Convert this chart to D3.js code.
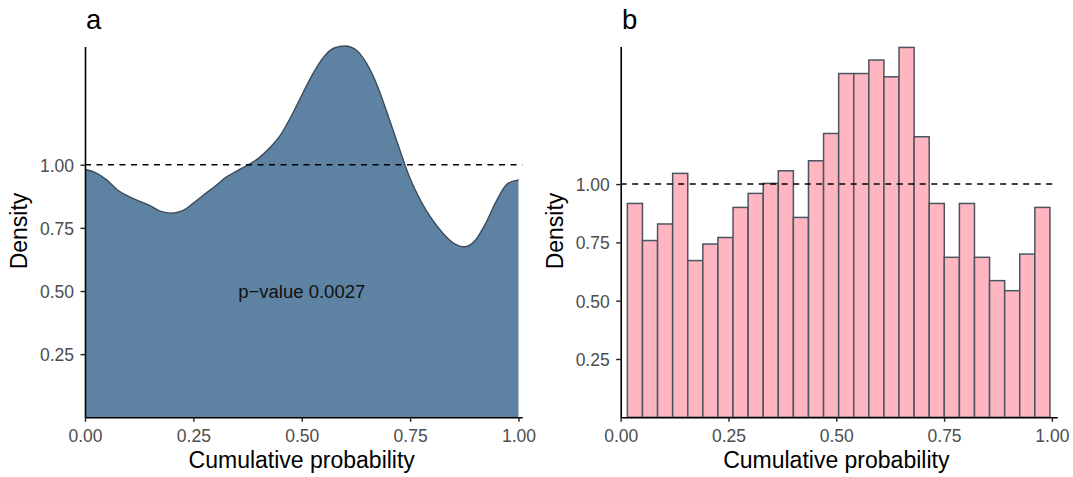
<!DOCTYPE html>
<html><head><meta charset="utf-8">
<script src="https://cdn.jsdelivr.net/npm/d3@7"></script>
<style>
body{margin:0;background:#fff}
svg{display:block;background:#fff}
text{font-family:"Liberation Sans",Arial,Helvetica,sans-serif}
</style>
</head><body>
<svg id="c" width="1073" height="477"></svg>
<script>
// ---- data ----
const densityX = [0.000,0.025,0.050,0.075,0.100,0.125,0.150,0.175,0.200,0.225,0.250,0.275,0.300,0.325,0.350,0.375,0.400,0.425,0.450,0.475,0.500,0.525,0.550,0.575,0.600,0.625,0.650,0.675,0.700,0.725,0.750,0.775,0.800,0.825,0.850,0.875,0.900,0.925,0.950,0.975,1.000];
const densityY = [0.982,0.968,0.940,0.900,0.875,0.856,0.838,0.815,0.808,0.818,0.848,0.882,0.915,0.950,0.975,0.998,1.025,1.065,1.115,1.190,1.275,1.358,1.425,1.462,1.470,1.455,1.400,1.310,1.190,1.065,0.945,0.855,0.785,0.730,0.690,0.675,0.700,0.770,0.860,0.925,0.940];
const histDensity = [0.917,0.758,0.829,1.046,0.672,0.743,0.771,0.900,0.960,1.003,1.057,0.857,1.100,1.217,1.474,1.474,1.532,1.460,1.586,1.203,0.917,0.686,0.917,0.686,0.586,0.543,0.700,0.900];
const histFirstEdge = 0.0155;
const histBinWidth = 0.035;
const xTicks = [0, 0.25, 0.5, 0.75, 1];
const yTicks = [0.25, 0.5, 0.75, 1];
const refLine = 1;
const pLabel = "p\u2212value 0.0027";
const xTitle = "Cumulative probability";
const yTitle = "Density";
const panelTags = ["a", "b"];

// ---- drawing ----
const svg = d3.select("#c");
const fmt = d3.format(".2f");
const tickCol = "#4d4d4d";

function axes(g, x, y, xAt, yAt) {
  const ax = g.append("g").attr("transform", `translate(0,${xAt})`)
    .call(d3.axisBottom(x).tickValues(xTicks).tickFormat(fmt).tickSize(4.5).tickSizeOuter(0));
  const ay = g.append("g").attr("transform", `translate(${yAt},0)`)
    .call(d3.axisLeft(y).tickValues(yTicks).tickFormat(fmt).tickSize(4.5).tickSizeOuter(0));
  [ax, ay].forEach(a => {
    a.select(".domain").attr("stroke", "#000").attr("stroke-width", 1.6);
    a.selectAll(".tick line").attr("stroke", "#222").attr("stroke-width", 1.4);
    a.selectAll("text").attr("fill", tickCol).style("font-size", "17.5px")
      .style("font-family", '"Liberation Sans",Arial,sans-serif');
  });
  ax.selectAll("text").attr("y", 24.5).attr("dy", null);
  ay.selectAll("text").attr("x", -11).attr("dy", "0.36em");
}

function titles(cx, yTitleX, cy, tagX, tag) {
  svg.append("text").attr("x", cx).attr("y", 468).attr("text-anchor", "middle")
    .style("font-size", "23px").attr("fill", "#000").text(xTitle);
  svg.append("text").attr("transform", `translate(${yTitleX},${cy}) rotate(-90)`)
    .attr("text-anchor", "middle").style("font-size", "23px").attr("fill", "#000").text(yTitle);
  svg.append("text").attr("x", tagX).attr("y", 28.5).style("font-size", "27.5px")
    .attr("fill", "#000").text(tag);
}

// Panel a
{
  const x = d3.scaleLinear([0, 1.0088], [85, 522.3]);
  const y = d3.scaleLinear([0, 1.468], [417.3, 46.5]);
  const g = svg.append("g");
  const pts = densityX.map((d, i) => [d, densityY[i]]);
  g.append("path").datum(pts)
    .attr("d", d3.area().x(d => x(d[0])).y0(y(0)).y1(d => y(d[1])).curve(d3.curveMonotoneX))
    .attr("fill", "#5e82a2");
  g.append("path").datum(pts)
    .attr("d", d3.line().x(d => x(d[0])).y(d => y(d[1])).curve(d3.curveMonotoneX))
    .attr("fill", "none").attr("stroke", "#3e4c5a").attr("stroke-width", 1.4);
  g.append("line").attr("x1", x(0)).attr("x2", x(1.0088)).attr("y1", y(refLine)).attr("y2", y(refLine))
    .attr("stroke", "#000").attr("stroke-width", 1.5).attr("stroke-dasharray", "6,5.5");
  g.append("text").attr("x", x(0.5)).attr("y", 298.3).attr("text-anchor", "middle")
    .style("font-size", "18.5px").attr("fill", "#111").text(pLabel);
  axes(g, x, y, 417.3, 85);
  titles(x(0.5), 27, 231, 86, panelTags[0]);
}

// Panel b
{
  const x = d3.scaleLinear([0, 1.0126], [620.7, 1057.3]);
  const y = d3.scaleLinear([0, 1.59], [417.3, 46.5]);
  const g = svg.append("g");
  g.selectAll("rect").data(histDensity).join("rect")
    .attr("x", (d, i) => x(histFirstEdge + i * histBinWidth))
    .attr("width", (d, i) => x(histFirstEdge + (i + 1) * histBinWidth) - x(histFirstEdge + i * histBinWidth))
    .attr("y", d => y(d))
    .attr("height", d => y(0) - y(d))
    .attr("fill", "#ffb6c1").attr("stroke", "#4a5560").attr("stroke-width", 1.5);
  g.append("line").attr("x1", x(0)).attr("x2", x(1.0126)).attr("y1", y(refLine)).attr("y2", y(refLine))
    .attr("stroke", "#000").attr("stroke-width", 1.5).attr("stroke-dasharray", "6,5.5");
  axes(g, x, y, 417.3, 620.7);
  titles(x(0.5), 563, 231, 622, panelTags[1]);
}
</script>
</body></html>
